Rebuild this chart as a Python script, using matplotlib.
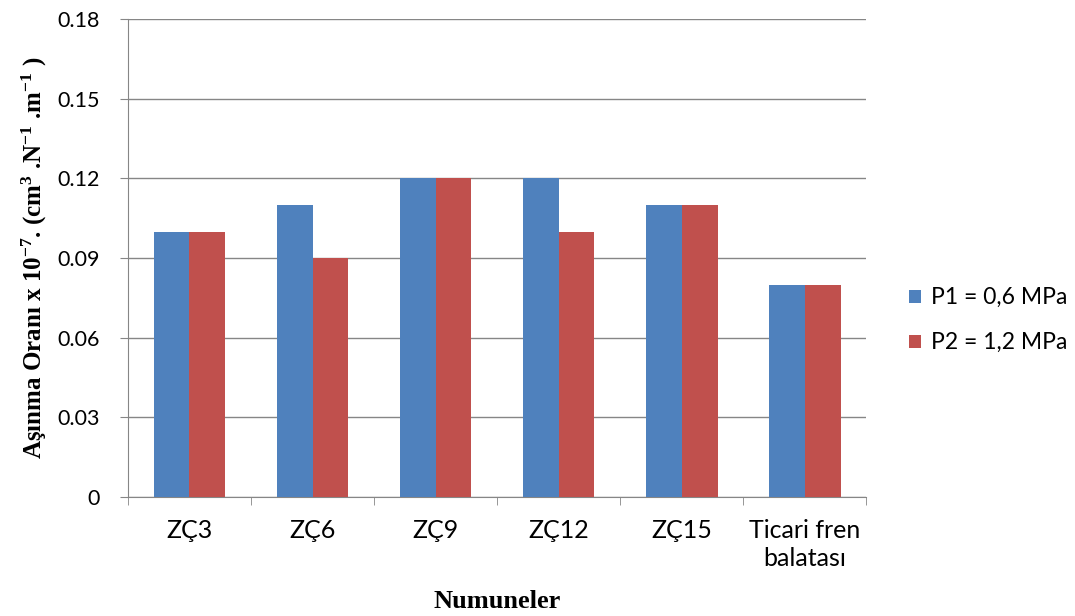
import numpy as np
import matplotlib.pyplot as plt

# Aşınma oranı verileri (x 10^-7 cm3/N.m)
numuneler = ["ZÇ3", "ZÇ6", "ZÇ9", "ZÇ12", "ZÇ15", "Ticari fren\nbalatası"]
p1_values = [0.10, 0.11, 0.12, 0.12, 0.11, 0.08]
p2_values = [0.10, 0.09, 0.12, 0.10, 0.11, 0.08]
y_ticks = [0, 0.03, 0.06, 0.09, 0.12, 0.15, 0.18]
y_tick_labels = ["0", "0.03", "0.06", "0.09", "0.12", "0.15", "0.18"]

plt.rcParams["font.family"] = ["Lato", "DejaVu Sans"]
plt.rcParams["mathtext.fontset"] = "custom"
plt.rcParams["mathtext.rm"] = "Liberation Serif:bold"
plt.rcParams["mathtext.default"] = "rm"

grid_color = "#868686"
fig = plt.figure(figsize=(10.75, 6.16), dpi=100)
ax = fig.add_axes([0.119, 0.193, 0.687, 0.776])

x = np.arange(len(numuneler))
w = 0.29
ax.bar(x - w / 2, p1_values, w, color="#4F81BD", label="P1 = 0,6 MPa", zorder=3)
ax.bar(x + w / 2, p2_values, w, color="#C0504D", label="P2 = 1,2 MPa", zorder=3)

ax.set_xlim(-0.5, len(numuneler) - 0.5)
ax.set_ylim(0, 0.18)
ax.set_yticks(y_ticks)
ax.set_yticklabels(y_tick_labels)
ax.set_xticks(x)
ax.set_xticklabels(numuneler, linespacing=1.25)
ax.set_xticks(np.arange(-0.5, len(numuneler)), minor=True)
ax.tick_params(axis="x", which="major", length=0, pad=16, labelsize=18)
ax.tick_params(axis="x", which="minor", length=6, color=grid_color)
ax.tick_params(axis="y", length=6, color=grid_color, pad=14, labelsize=15.5)

ax.yaxis.grid(True, color=grid_color, linewidth=1.0, zorder=0)
for side in ["top", "right"]:
    ax.spines[side].set_visible(False)
for side in ["left", "bottom"]:
    ax.spines[side].set_color(grid_color)

ax.set_ylabel("Aşınma Oranı x 10$^{-7}$. (cm$^{3}$ .N$^{-1}$ .m$^{-1}$ )",
              fontfamily="Liberation Serif", fontweight="bold", fontsize=18, labelpad=6)
ax.set_xlabel("Numuneler", fontfamily="Liberation Serif", fontweight="bold",
              fontsize=19, labelpad=14)

ax.legend(loc="center left", bbox_to_anchor=(1.03, 0.37), frameon=False,
          fontsize=16.5, handlelength=0.5, handleheight=0.5, labelspacing=1.05,
          handletextpad=0.45)

fig.savefig("out.png", dpi=100)
